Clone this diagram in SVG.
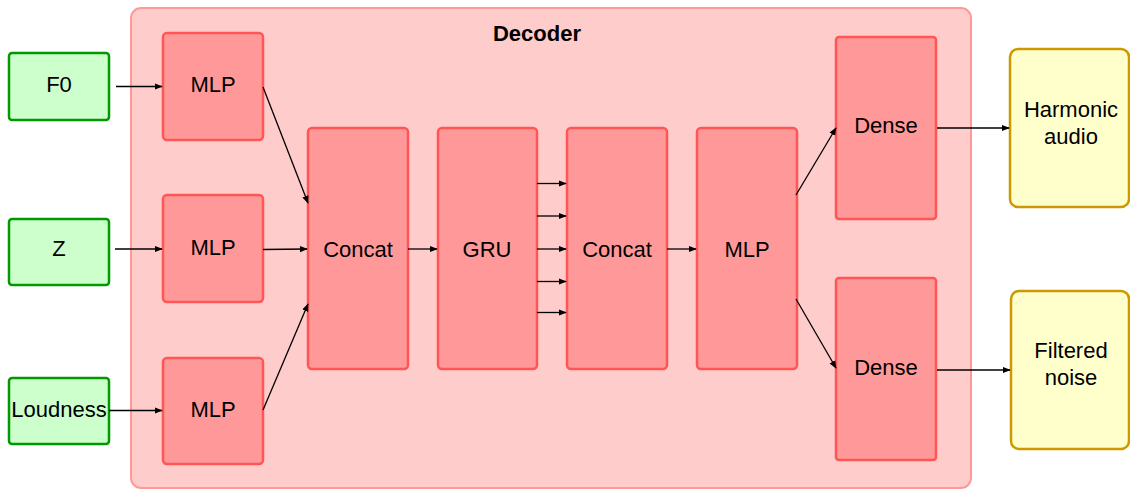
<svg xmlns="http://www.w3.org/2000/svg" width="1130" height="489" viewBox="0 0 1130 489">
<defs>
<marker id="ah" viewBox="0 0 10 10" refX="9" refY="5" markerWidth="8" markerHeight="8" markerUnits="userSpaceOnUse" orient="auto">
<path d="M0,1 L10,5 L0,9 Z" fill="#000"/>
</marker>
<style>
text{font-family:"Liberation Sans",Arial,sans-serif;font-size:22px;fill:#000;text-anchor:middle}
.title{font-weight:bold;font-size:22px}
.inp{fill:#ccffcc;stroke:#009900;stroke-width:2.5}
.blk{fill:#ff9999;stroke:#ff5555;stroke-width:2.5}
.out{fill:#ffffcc;stroke:#cc9900;stroke-width:2.5}
.cont{fill:#ffcccc;stroke:#ff9999;stroke-width:2}
.c line{stroke:#000;stroke-width:1.3;marker-end:url(#ah)}
</style>
</defs>
<g id="decoder"><rect class="cont" x="131" y="8" width="840" height="480" rx="10"/><text class="title" x="537" y="41">Decoder</text></g>
<g id="f0"><rect class="inp" x="9" y="53" width="100" height="67" rx="3"/><text x="59" y="92">F0</text></g>
<g id="z"><rect class="inp" x="9" y="219" width="100" height="66" rx="3"/><text x="59" y="256">Z</text></g>
<g id="loudness"><rect class="inp" x="9" y="378" width="100" height="66" rx="3"/><text x="59" y="417">Loudness</text></g>
<g id="mlp1"><rect class="blk" x="163" y="33" width="100" height="107" rx="4"/><text x="213" y="92">MLP</text></g>
<g id="mlp2"><rect class="blk" x="163" y="195" width="100" height="107" rx="4"/><text x="213" y="255">MLP</text></g>
<g id="mlp3"><rect class="blk" x="163" y="358" width="100" height="106" rx="4"/><text x="213" y="417">MLP</text></g>
<g id="concat1"><rect class="blk" x="308" y="128" width="100" height="241" rx="4"/><text x="358" y="257">Concat</text></g>
<g id="gru"><rect class="blk" x="438" y="128" width="99" height="241" rx="4"/><text x="487" y="257">GRU</text></g>
<g id="concat2"><rect class="blk" x="567" y="128" width="100" height="241" rx="4"/><text x="617" y="257">Concat</text></g>
<g id="mlp4"><rect class="blk" x="697" y="128" width="100" height="241" rx="4"/><text x="747" y="257">MLP</text></g>
<g id="dense1"><rect class="blk" x="836" y="37" width="100" height="182" rx="3"/><text x="886" y="133">Dense</text></g>
<g id="dense2"><rect class="blk" x="836" y="278" width="100" height="182" rx="3"/><text x="886" y="375">Dense</text></g>
<g id="harmonic"><rect class="out" x="1010" y="49" width="119" height="158" rx="8"/><text x="1071" y="117">Harmonic</text><text x="1071" y="144">audio</text></g>
<g id="noise"><rect class="out" x="1011" y="291" width="118" height="158" rx="8"/><text x="1071" y="358">Filtered</text><text x="1071" y="385">noise</text></g>
<g class="c" id="connectors">
<line x1="116" y1="86.5" x2="162" y2="86.5"/>
<line x1="115" y1="249" x2="162" y2="249"/>
<line x1="109" y1="410.5" x2="162" y2="410.5"/>
<line x1="263" y1="87" x2="308" y2="203"/>
<line x1="263" y1="249.5" x2="307" y2="249"/>
<line x1="263" y1="410" x2="308" y2="304"/>
<line x1="408" y1="249" x2="437" y2="249"/>
<line x1="537" y1="183.5" x2="566" y2="183.5"/>
<line x1="537" y1="216" x2="566" y2="216"/>
<line x1="537" y1="249" x2="566" y2="249"/>
<line x1="537" y1="281.5" x2="566" y2="281.5"/>
<line x1="537" y1="312.5" x2="566" y2="312.5"/>
<line x1="667" y1="249" x2="696" y2="249"/>
<line x1="796" y1="195" x2="836" y2="128"/>
<line x1="796" y1="299" x2="836" y2="368"/>
<line x1="937" y1="128" x2="1009" y2="128"/>
<line x1="937" y1="370" x2="1010" y2="370"/>
</g>
</svg>
